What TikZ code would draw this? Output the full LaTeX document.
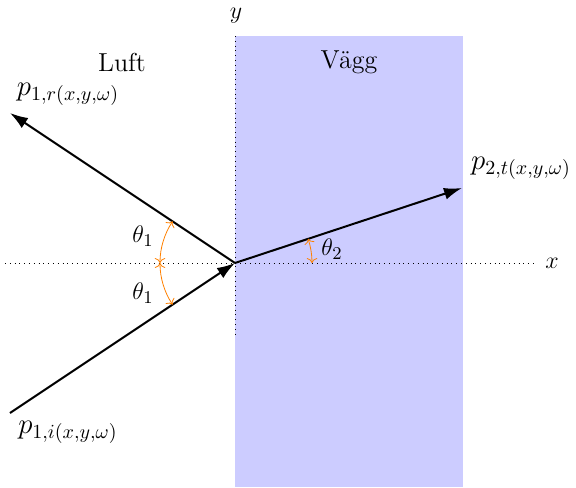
\documentclass[tikz,border=0pt]{standalone}
\usetikzlibrary{arrows.meta}
\begin{document}
\begin{tikzpicture}[x=0.5pt,y=0.5pt,
  every node/.style={font=\fontsize{13}{16}\selectfont},
  ray/.style={line width=1pt,-{Latex[length=9pt,width=6pt]}},
  angarc/.style={orange,<->},
  axisline/.style={dotted},
  lbl/.style={inner sep=0pt},
  plbl/.style={inner sep=0pt,font=\fontsize{14}{17}\selectfont}]
\useasboundingbox (-235,-224) rectangle (341,263);
\fill[blue!20] (0,-224) rectangle (228,227);
\coordinate (O) at (0,0);
\coordinate (xs) at (-230,0);
\coordinate (xe) at (300,0);
\coordinate (ys) at (0,227);
\coordinate (ye) at (0,-75);
\draw[axisline] (xs) -- (xe);
\draw[axisline] (ys) -- (ye);
\node[lbl] (xl) at (317,0) {$x$};
\node[lbl] (yl) at (1,247) {$y$};
\coordinate (R) at (-225,150);
\coordinate (I) at (-225,-150);
\coordinate (T) at (227,75);
\draw[ray] (I) -- (O);
\draw[ray] (O) -- (R);
\draw[ray] (O) -- (T);
\draw[angarc] (146.31:75) arc[start angle=146.31,end angle=180,radius=75];
\draw[angarc] (180:75) arc[start angle=180,end angle=213.69,radius=75];
\draw[angarc] (0:77) arc[start angle=0,end angle=18.28,radius=77];
\node[lbl] (t1a) at (-92,27) {$\theta_1$};
\node[lbl] (t1b) at (-92,-30) {$\theta_1$};
\node[lbl] (t2) at (97,14) {$\theta_2$};
\node[plbl] (pr) at (-167,169) {$p_{1,r(x,y,\omega)}$};
\node[plbl] (pi) at (-167,-169) {$p_{1,i(x,y,\omega)}$};
\node[plbl] (pt) at (286,95) {$p_{2,t(x,y,\omega)}$};
\node[lbl] (luft) at (-113,201) {Luft};
\node[lbl] (vagg) at (114,201) {Vägg};
\end{tikzpicture}
\end{document}
